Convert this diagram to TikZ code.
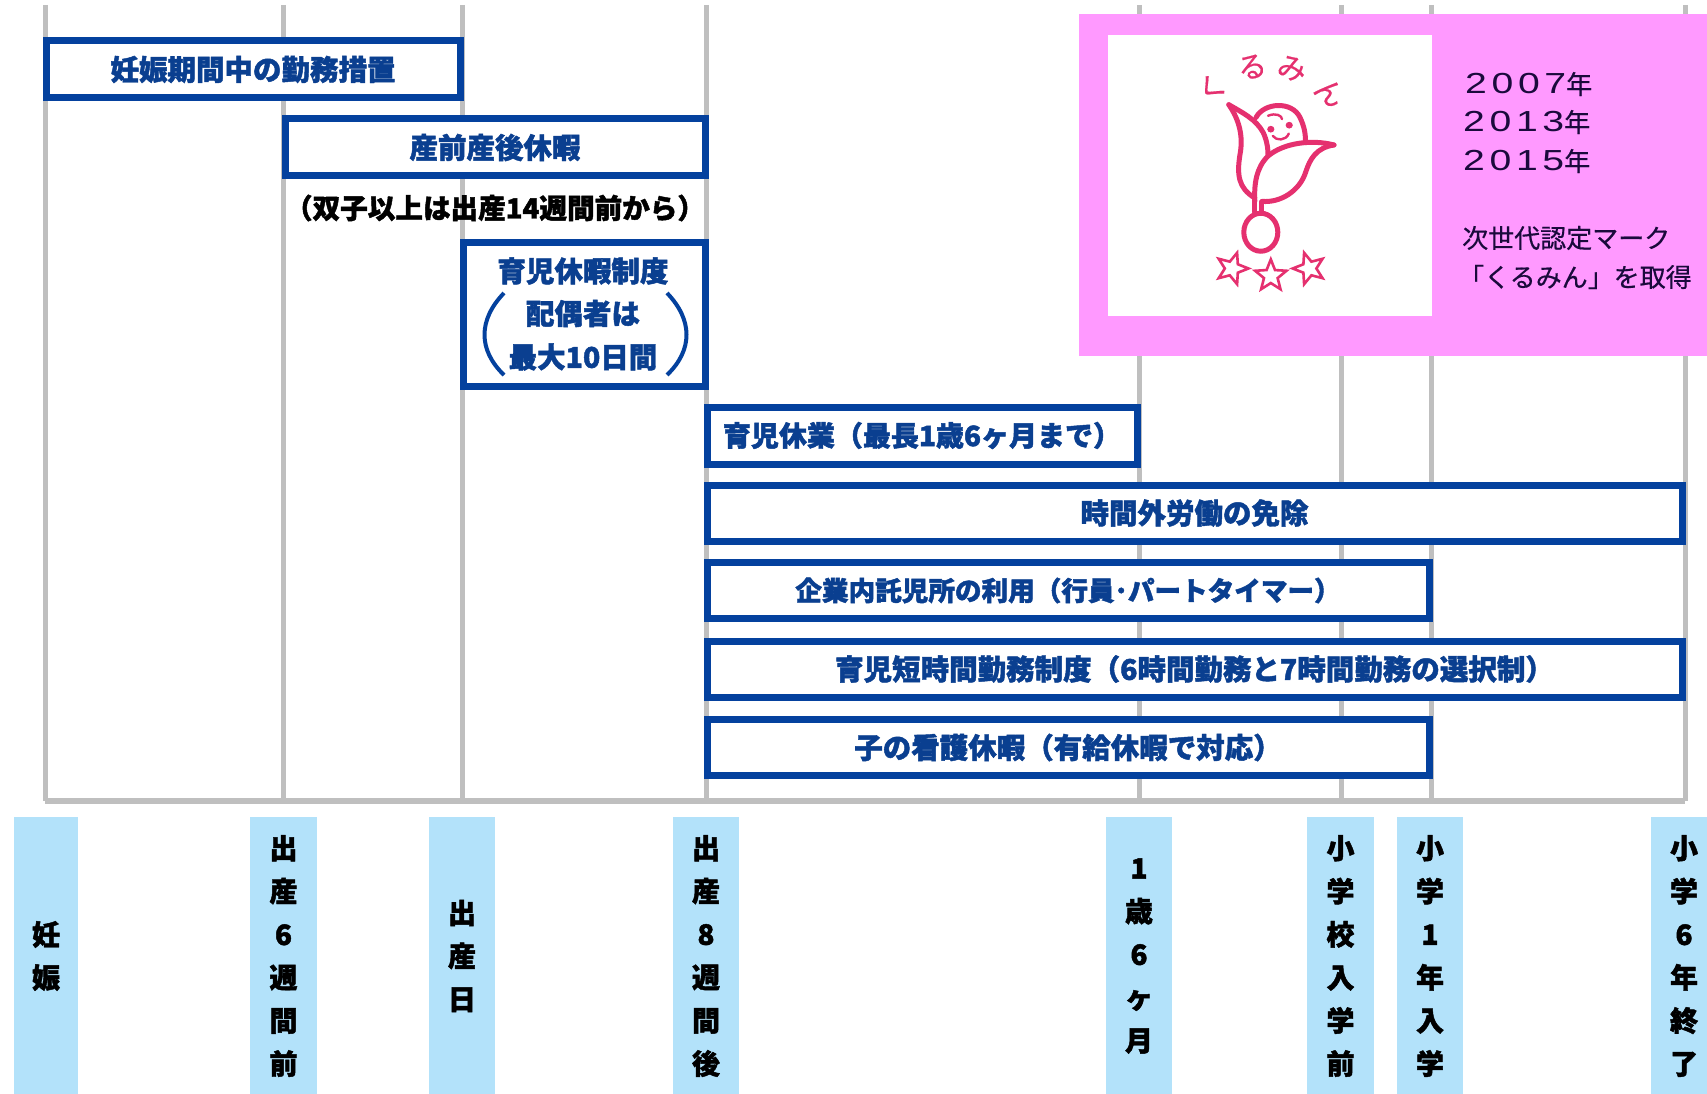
\documentclass[tikz,border=0pt]{standalone}
\usepackage{fontspec}
\setmainfont{Noto Sans CJK JP}[BoldFeatures={FakeBold=1.6}]
\newfontfamily\yrdigits{Liberation Sans}[FakeStretch=1.35,LetterSpace=16]
\newfontfamily\jpsemi{Noto Sans CJK JP}[FakeBold=0.5]
\usetikzlibrary{shapes.geometric}
\definecolor{gridc}{HTML}{BFBFBF}
\definecolor{bluec}{HTML}{04419E}
\definecolor{txtb}{HTML}{0A3F90}
\definecolor{barc}{HTML}{B3E2FA}
\definecolor{pinkc}{HTML}{FF99FF}
\definecolor{logoc}{HTML}{E5306F}
\definecolor{darkt}{HTML}{1A0A3C}
\newcommand{\fs}[1]{\fontsize{#1}{#1}\selectfont}
\newcommand{\barfont}{\fontsize{28}{43.1}\selectfont\lineskiplimit=-100pt\bfseries}
\newcommand{\yr}[1]{{\fontsize{29}{29}\selectfont\yrdigits #1}{\fs{26}\jpsemi 年}}
\tikzset{
  gridline/.style={draw=gridc,line width=5pt},
  boxn/.style={draw=bluec,line width=7pt,fill=white,inner sep=0pt,text=txtb,font=\fs{28.5}\bfseries,align=center},
  barn/.style={inner sep=0pt,text=black,font=\barfont,align=center},
  yeartxt/.style={inner sep=0pt,anchor=west,text=darkt,font=\fs{26}\jpsemi},
  logoline/.style={draw=logoc,line width=5pt,line join=round,line cap=round},
  logochar/.style={inner sep=0pt,text=logoc,font=\fs{29}\jpsemi},
  starn/.style={star,star points=5,star point ratio=2.3,draw=logoc,line width=2.6pt,fill=white,minimum size=33pt,inner sep=0pt}
}
\begin{document}
\begin{tikzpicture}[x=1pt,y=-1pt]
\useasboundingbox (0,0) rectangle (1707,1094);
\clip (0,0) rectangle (1707,1094);
\foreach \n/\x in {a/45,b/283,c/462,d/706,e/1139,f/1341,g/1431,h/1685}{
  \coordinate (top\n) at (\x,5);
  \coordinate (bot\n) at (\x,801);
  \draw[gridline] (top\n) -- (bot\n);
}
\draw[gridline,line width=6pt] (bota) -- (both);
% boxes
\node[boxn,minimum width=414pt,minimum height=57pt] (b1) at (253,69.5) {妊娠期間中の勤務措置};
\node[boxn,minimum width=420pt,minimum height=57pt] (b2) at (495,147.5) {産前産後休暇};
\node[inner sep=0pt,font=\fs{27.6}\bfseries] (note) at (495,208) {（双子以上は出産14週間前から）};
\node[boxn,minimum width=242pt,minimum height=144pt] (b3) at (584,314.5) {};
\node[inner sep=0pt,text=txtb,font=\fs{28.5}\bfseries] (b3a) at (583,271) {育児休暇制度};
\node[inner sep=0pt,text=txtb,font=\fs{28.5}\bfseries] (b3b) at (583,313.5) {配偶者は};
\node[inner sep=0pt,text=txtb,font=\fs{28.5}\bfseries] (b3c) at (583,357) {最大10日間};
\draw[draw=bluec,line width=4pt] (504,293) .. controls (478,320) and (478,350) .. (504,375);
\draw[draw=bluec,line width=4pt] (667,293) .. controls (693,320) and (693,350) .. (667,375);
\node[boxn,minimum width=430pt,minimum height=57pt] (b4) at (922,435.5) {\fs{28}育児休業（最長1歳6ヶ月まで）};
\node[boxn,minimum width=975pt,minimum height=56pt] (b5) at (1194.5,513) {時間外労働の免除};
\node[boxn,minimum width=722pt,minimum height=56pt] (b6) at (1068,590.5) {\fs{26.6}企業内託児所の利用（行員･パートタイマー）};
\node[boxn,minimum width=975pt,minimum height=56pt] (b7) at (1194.5,669) {育児短時間勤務制度（6時間勤務と7時間勤務の選択制）};
\node[boxn,minimum width=722pt,minimum height=56pt] (b8) at (1068,747.5) {子の看護休暇（有給休暇で対応）};
% bars
\foreach \n/\x/\w/\t in {
  p1/46/64/{妊\\娠},
  p2/283.5/67/{出\\産\\6\\週\\間\\前},
  p3/462/66/{出\\産\\日},
  p4/706/66/{出\\産\\8\\週\\間\\後},
  p5/1139/66/{1\\歳\\6\\ヶ\\月},
  p6/1340.5/67/{小\\学\\校\\入\\学\\前},
  p7/1430/66/{小\\学\\1\\年\\入\\学},
  p8/1684/66/{小\\学\\6\\年\\終\\了}}{
  \node[fill=barc,minimum width=\w pt,minimum height=277pt,inner sep=0pt] (\n) at (\x,955.5) {};
  \node[barn] (\n t) at (\x,956) {\t};
}
% pink panel
\node[fill=pinkc,draw=none,minimum width=628pt,minimum height=342pt,inner sep=0pt] (panel) at (1393,185) {};
\node[fill=white,draw=none,minimum width=324pt,minimum height=281pt,inner sep=0pt] (mark) at (1270,175.5) {};
\node[yeartxt] (y1) at (1465,84) {\yr{2007}};
\node[yeartxt] (y2) at (1463,122) {\yr{2013}};
\node[yeartxt] (y3) at (1463,161) {\yr{2015}};
\node[yeartxt] (y4) at (1462,238) {次世代認定マーク};
\node[yeartxt] (y5) at (1458,277) {「くるみん」を取得};
% logo
\begin{scope}[xshift=1080pt,x=.4pt,y=-.3356pt]
\node[logochar,rotate=45] (k1) at (330,262) {く};
\node[logochar,rotate=12] (k2) at (430,200) {る};
\node[logochar,rotate=-15] (k3) at (530,205) {み};
\node[logochar,rotate=-40] (k4) at (625,275) {ん};
\draw[logoline] (372,312) .. controls (400,360) and (408,410) .. (400,460) .. controls (392,520) and (395,560) .. (437,590);
\draw[logoline] (372,312) .. controls (405,335) and (440,355) .. (458,395) .. controls (468,420) and (470,445) .. (470,462);
\draw[logoline] (440,350) .. controls (460,305) and (530,300) .. (550,350) .. controls (560,375) and (565,400) .. (563,425);
\draw[logoline] (635,432) .. controls (580,415) and (510,425) .. (470,465) .. controls (440,500) and (435,550) .. (437,600);
\draw[logoline] (635,432) .. controls (590,440) and (575,475) .. (565,510) .. controls (550,570) and (500,605) .. (455,600);
\draw[logoline] (437,590) -- (437,632);
\draw[logoline] (453,602) -- (453,632);
\node[draw=logoc,line width=5pt,ellipse,fill=white,minimum width=34pt,minimum height=38pt,inner sep=0pt] (seed) at (452,692) {};
\fill[logoc] (477,385) ellipse (9 and 10);
\fill[logoc] (523,373) ellipse (9 and 10);
\draw[logoline,line width=2.4pt] (482,405) .. controls (490,420) and (515,420) .. (522,398);
\draw[logoline,line width=2.4pt] (470,345) .. controls (490,335) and (505,345) .. (505,355);
\node[starn,rotate=-18] (s1) at (380,800) {};
\node[starn] (s2) at (477,822) {};
\node[starn,rotate=18] (s3) at (573,800) {};
\end{scope}
\end{tikzpicture}
\end{document}
